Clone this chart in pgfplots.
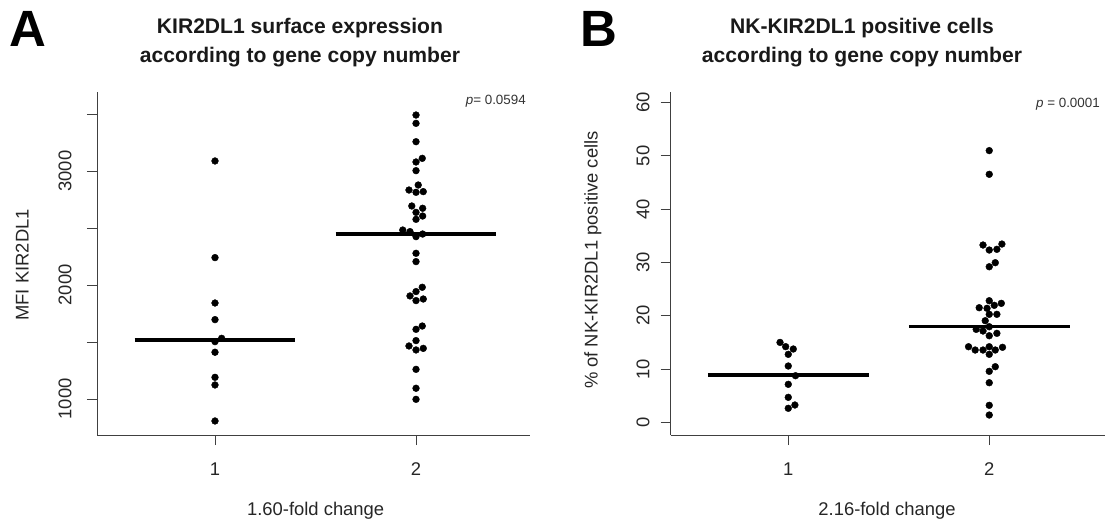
\documentclass[border=0pt]{standalone}
\usepackage{fontspec}
\setmainfont{Liberation Sans}
\usepackage{pgfplots}
\pgfplotsset{compat=1.18}
\begin{document}
\begin{tikzpicture}[x=1pt,y=1pt]
\pgfplotsset{
  swarm/.style={
    scale only axis, axis lines=left,
    axis line style={-, black!75, line width=0.9pt},
    tick align=outside, major tick length=10pt,
    tick style={black!75, line width=0.9pt},
    clip=false,
    /pgf/number format/assume math mode=true,
    ticklabel style={font=\fontsize{18.4}{22}\selectfont, text=black!85},
    label style={font=\fontsize{18.4}{22}\selectfont, text=black!85},
    xtick={1,2}, xticklabels={1,2},
    xticklabel style={anchor=center, yshift=-24pt},
    height=343pt,
  },
  dots/.style={only marks, mark=*, mark size=3.4pt, black, mark options={fill=black}},
  med/.style={black, line width=3.2pt, no marks},
}
% ---------------- Panel A ----------------
\begin{axis}[swarm, at={(97pt,90pt)}, anchor=south west, width=433pt,
  xmin=0.413, xmax=2.567, ymin=684, ymax=3693,
  ytick={1000,1500,2000,2500,3000,3500}, yticklabels={1000,,2000,,3000,},
  yticklabel style={xshift=-22pt, rotate=90, anchor=center},
  ylabel={MFI KIR2DL1},
  ylabel style={at={(axis description cs:-0.173,0.496)}, anchor=center},
  xlabel={1.60-fold change},
  xlabel style={at={(axis description cs:0.505,-0.221)}, anchor=center},
]
\addplot[dots] coordinates {
 (1,3088) (1,2240) (1,1842) (1,1696) (1.033,1532) (1,1503) (1,1410) (1,1190) (1,1123) (1,807)
};
\addplot[dots] coordinates {
 (2,3491) (2,3418) (2,3257) (2.031,3111) (2,3079) (2,3003) (2.011,2877) (1.965,2833)
 (2,2813) (2.036,2819) (1.979,2693) (2.033,2673) (2,2637) (2.033,2605) (2,2576)
 (1.934,2482) (1.970,2468) (2,2424) (2.033,2447) (2,2278) (2,2205) (2.031,1980)
 (2,1942) (1.970,1904) (2,1863) (2.036,1877) (2.031,1640) (2,1611) (2,1512)
 (1.965,1465) (2,1430) (2.036,1444) (2,1260) (2,1094) (2,997)
};
\addplot[med] coordinates {(0.6,1518) (1.4,1518)};
\addplot[med] coordinates {(1.6,2447) (2.4,2447)};
\end{axis}
% ---------------- Panel B ----------------
\begin{axis}[swarm, at={(670.7pt,90pt)}, anchor=south west, width=434.3pt,
  xmin=0.415, xmax=2.576, ymin=-2.38, ymax=62.0,
  ytick={0,10,20,30,40,50,60}, yticklabels={0,10,20,30,40,50,60},
  yticklabel style={xshift=-17.7pt, rotate=90, anchor=center},
  ylabel={\% of NK-KIR2DL1 positive cells},
  ylabel style={at={(axis description cs:-0.179,0.51)}, anchor=center},
  xlabel={2.16-fold change},
  xlabel style={at={(axis description cs:0.498,-0.221)}, anchor=center},
]
\addplot[dots] coordinates {
 (0.959,15.0) (0.987,14.2) (1.025,13.76) (1,12.76) (1,10.57) (1.036,8.75)
 (1,7.13) (1,4.69) (1.033,3.25) (1,2.63)
};
\addplot[dots] coordinates {
 (2,51.0) (2,46.55) (1.969,33.28) (2,32.34) (2.038,32.47) (2.063,33.46)
 (2,29.2) (2.030,29.96) (2,22.82) (1.950,21.51) (1.989,21.4) (2.025,21.96)
 (2.060,22.33) (2,20.27) (2.038,20.27) (1.980,19.07) (1.935,17.45) (1.969,17.14)
 (2,17.94) (2,16.25) (2.038,16.7) (1.897,14.19) (1.930,13.57) (1.969,13.57)
 (2,14.19) (2,12.76) (2.030,13.57) (2.066,14.08) (2,9.57) (2.030,10.44)
 (2,7.43) (2,3.19) (2,1.37)
};
\addplot[med] coordinates {(0.6,8.9) (1.4,8.9)};
\addplot[med] coordinates {(1.6,17.94) (2.4,17.94)};
\end{axis}
% ---------------- Texts ----------------
\node[anchor=base west, inner sep=0, font=\fontsize{51}{51}\selectfont\bfseries] at (9,478) {A};
\node[anchor=base west, inner sep=0, font=\fontsize{51}{51}\selectfont\bfseries] at (580,478) {B};
\node[anchor=base, inner sep=0, font=\fontsize{21.1}{24}\selectfont\bfseries, text=black!90] at (300,491.7) {KIR2DL1 surface expression};
\node[anchor=base, inner sep=0, font=\fontsize{21.1}{24}\selectfont\bfseries, text=black!90] at (300,462) {according to gene copy number};
\node[anchor=base, inner sep=0, font=\fontsize{21.1}{24}\selectfont\bfseries, text=black!90] at (862,491.7) {NK-KIR2DL1 positive cells};
\node[anchor=base, inner sep=0, font=\fontsize{21.1}{24}\selectfont\bfseries, text=black!90] at (862,462) {according to gene copy number};
\node[anchor=base east, inner sep=0, font=\fontsize{13.4}{16}\selectfont, text=black!80] at (526,420.2) {\textit{p}= 0.0594};
\node[anchor=base east, inner sep=0, font=\fontsize{13.4}{16}\selectfont, text=black!80] at (1100,417.2) {\textit{p} = 0.0001};
\pgfresetboundingbox
\path[use as bounding box] (0,0) rectangle (1106,525);
\end{tikzpicture}
\end{document}
